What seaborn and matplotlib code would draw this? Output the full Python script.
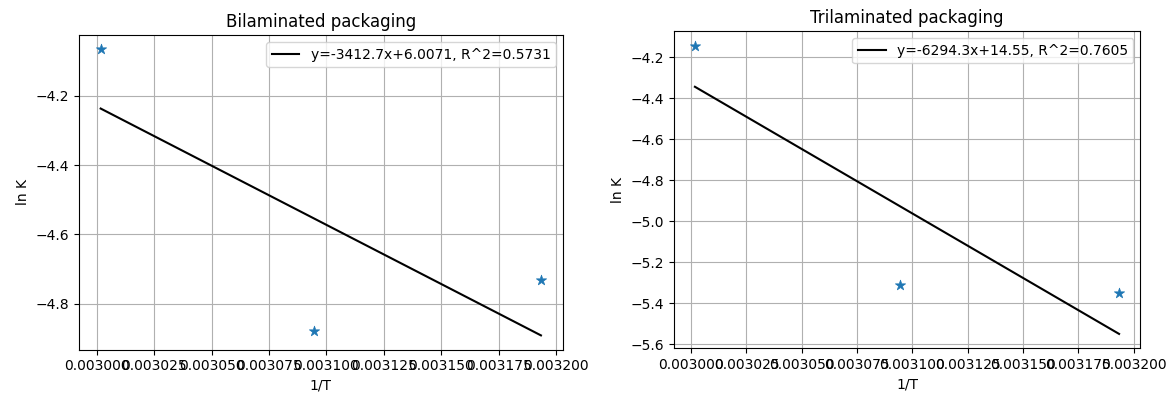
import matplotlib
matplotlib.use("Agg")
import matplotlib.pyplot as plt
import seaborn as sns
import numpy as np

# Data
inv_T = [0.0030017, 0.0030945, 0.0031934]
lnk_bi = [-4.066, -4.878, -4.732]
lnk_tri = [-4.143, -5.311, -5.352]
slope_bi, intercept_bi = -3412.7, 6.0071
slope_tri, intercept_tri = -6294.3, 14.55
label_bi = "y=-3412.7x+6.0071, R^2=0.5731"
label_tri = "y=-6294.3x+14.55, R^2=0.7605"
titles = ["Bilaminated packaging", "Trilaminated packaging"]

fig = plt.figure(figsize=(11.67, 3.93), dpi=100)
ax1 = fig.add_axes([0.0674, 0.1102, 0.4150, 0.8007])
ax2 = fig.add_axes([0.5773, 0.1137, 0.3998, 0.8067])

panels = [
    (ax1, lnk_bi, slope_bi, intercept_bi, label_bi, titles[0]),
    (ax2, lnk_tri, slope_tri, intercept_tri, label_tri, titles[1]),
]
x = np.array(inv_T)
for ax, y, m, b, lab, title in panels:
    sns.scatterplot(x=x, y=y, marker="*", s=60, color="C0",
                    edgecolor="C0", linewidth=0.5, ax=ax, zorder=3)
    sns.lineplot(x=x, y=m * x + b, color="k", linewidth=1.5,
                 label=lab, ax=ax, zorder=2)
    ax.grid(True)
    ax.set_axisbelow(True)
    ax.set_title(title)
    ax.set_xlabel("1/T")
    ax.set_ylabel("ln K")
    ax.legend(loc="upper right")

fig.savefig("out.png", dpi=100)
